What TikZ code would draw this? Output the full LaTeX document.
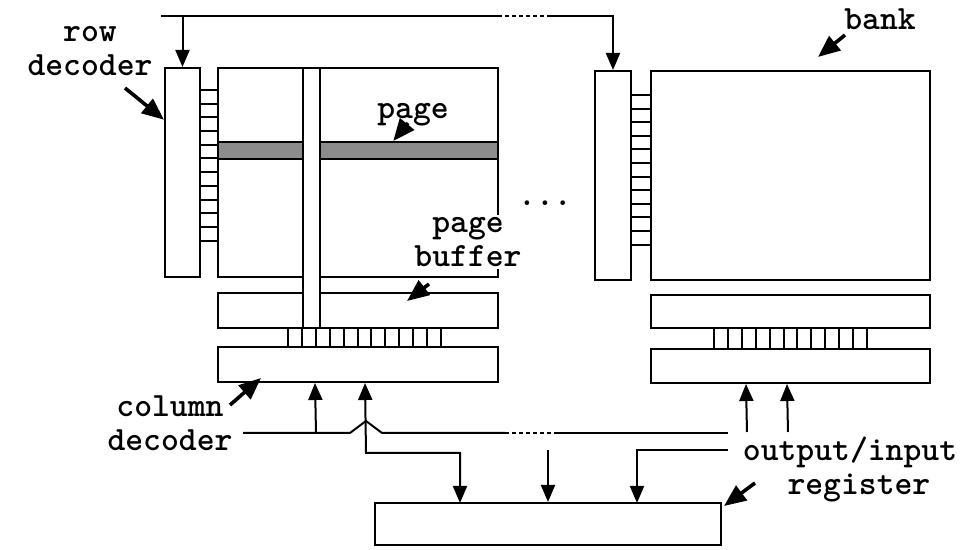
\documentclass[tikz,border=0pt]{standalone}
\usepackage{fontspec}
\newfontfamily\lblfont{lmmonolt10-bold.otf}
\usetikzlibrary{calc, arrows.meta}

\begin{document}
\begin{tikzpicture}[x=0.5pt, y=-0.5pt, line width=1pt,
  blk/.style={draw, rectangle, inner sep=0pt, fill=white},
  lbl/.style={font=\fontsize{17}{17}\selectfont\lblfont, align=center, inner sep=1pt},
  ptr/.style={line width=1.8pt, -{Triangle[length=11pt, width=9pt]}},
  tip/.style={-{Triangle[length=8.5pt, width=7pt]}},
  dots/.style={dash pattern=on 2pt off 1.5pt}
]
\useasboundingbox (0,0) rectangle (971,550);

% left bank
\node[blk, minimum width=17.5pt, minimum height=104.5pt] (rdecL) at (182.5,172.5) {};
\node[blk, minimum width=140pt, minimum height=104.5pt] (arrL) at (358,172.5) {};
\node[blk, fill=black!45, minimum width=140pt, minimum height=8.5pt] (pageRow) at (358,150.5) {};
\foreach \i in {0,...,11}
  \draw (200,90+13.7*\i) -- (218,90+13.7*\i);
\node[blk, minimum width=140pt, minimum height=17.5pt] (bufL) at (358,310.5) {};
\node[blk, minimum width=140pt, minimum height=17.5pt] (cdecL) at (358,364.5) {};
\foreach \i in {0,...,11}
  \draw (288+13.9*\i,328) -- (288+13.9*\i,347);
\node[blk, minimum width=8.5pt, minimum height=130pt] (colStrip) at (311.5,198) {};

% right bank
\node[blk, minimum width=18pt, minimum height=104.5pt] (rdecR) at (613,175.5) {};
\node[blk, minimum width=139.5pt, minimum height=104.5pt] (arrR) at (790.5,175.5) {};
\foreach \i in {0,...,11}
  \draw (631,95+13.6*\i) -- (651,95+13.6*\i);
\node[blk, minimum width=139.5pt, minimum height=16.5pt] (bufR) at (790.5,311.5) {};
\node[blk, minimum width=139.5pt, minimum height=17pt] (cdecR) at (790.5,366) {};
\foreach \i in {0,...,11}
  \draw (714+13.9*\i,328) -- (714+13.9*\i,349);

% register
\node[blk, minimum width=173pt, minimum height=21pt] (reg) at (548,524) {};

% labels
\node[lbl] (rowLbl) at (90,51) {row\\decoder};
\node[lbl] (pageLbl) at (413,115) {page};
\node[lbl, fill=white] (bufLbl) at (468,242) {page\\buffer};
\node[lbl] (bankLbl) at (880,19) {bank};
\node[lbl] (colLbl) at (170,423) {column\\decoder};
\node[lbl] (regLbl) at (850,470) {output/input\\\ register};
\node[lbl, anchor=base] (moreLbl) at (545,206) {...};

% pointers
\coordinate (rowTail) at (125,88);
\coordinate (pageTail) at (408,123);
\coordinate (bufTail) at (429,284);
\coordinate (bankTail) at (845,35);
\coordinate (colTail) at (230,405);
\coordinate (regTail) at (755,483);
\draw[ptr] (rowTail) -- ($(rdecL.north west)!.25!(rdecL.south west)$);
\draw[ptr] (pageTail) -- ($(pageRow.north west)!.625!(pageRow.north east)$);
\draw[ptr] (bufTail) -- ([shift={(190,9)}]bufL.north west);
\draw[ptr] (bankTail) -- ([shift={(168,-13)}]arrR.north west);
\draw[ptr] (colTail) -- ([shift={(44,-5)}]cdecL.south west);
\draw[ptr] (regTail) -- ([shift={(2,4)}]reg.north east);

% row address bus
\coordinate (busA) at (161,16);
\coordinate (busB) at (498,16);
\coordinate (busC) at (550,16);
\draw (busA) -- (busB);
\draw[dots] (busB) -- (busC);
\draw[tip] (busC) -| (rdecR.north);
\draw[tip] (rdecL.north |- busA) -- (rdecL.north);

% column / data bus
\coordinate (cbA) at (243,433);
\coordinate (cbB) at (505,433);
\coordinate (cbC) at (555,433);
\coordinate (cbD) at (728,433);
\draw (cbA) -- (350,433) -- (366,421) -- (382,433) -- (cbB);
\draw[dots] (cbB) -- (cbC);
\draw (cbC) -- (cbD);
\draw[tip] (316,433) -- ([xshift=49pt]cdecL.south west);
\draw[{Triangle[length=8.5pt, width=7pt]}-{Triangle[length=8.5pt, width=7pt]}]
  ([xshift=74pt]cdecL.south west) -- (366,453) -| (460,503);
\draw[tip] (548,450) -- (reg.north);
\draw[tip] (728,450) -| (637,503);
\draw[tip] (747,432) -- ([xshift=48pt]cdecR.south west);
\draw[tip] (788,432) -- ([xshift=68.5pt]cdecR.south west);

\end{tikzpicture}
\end{document}
